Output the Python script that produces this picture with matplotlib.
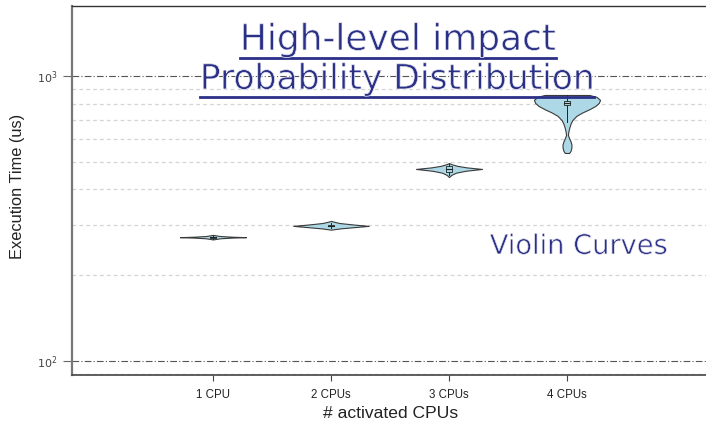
import matplotlib
matplotlib.use("Agg")
import matplotlib.pyplot as plt
import matplotlib.patheffects as pe
from matplotlib.ticker import LogLocator, NullFormatter, FixedLocator, FixedFormatter
from matplotlib.lines import Line2D
from matplotlib.patches import Rectangle

# ---------------- data ----------------
categories = ["1 CPU", "2 CPUs", "3 CPUs", "4 CPUs"]

# violin outlines: execution time (us) and half-width (category units)
v1_vals = [267, 269.5, 271, 272, 273, 274.5, 277]
v1_half = [0.0, 0.06, 0.16, 0.28, 0.16, 0.06, 0.0]

v2_vals = [289, 292, 295, 298, 301, 305, 310]
v2_half = [0.0, 0.08, 0.2, 0.32, 0.2, 0.07, 0.0]

v3_vals = [442, 450, 458, 465, 472, 478, 484, 490, 495]
v3_half = [0.0, 0.02, 0.06, 0.14, 0.28, 0.15, 0.07, 0.025, 0.0]

v4_vals = [537, 546, 560, 575, 590, 606, 621, 640, 660, 680, 700, 725,
           745, 765, 785, 805, 825, 845, 858]
v4_half = [0.018, 0.03, 0.037, 0.038, 0.03, 0.017, 0.008, 0.012, 0.02, 0.03,
           0.045, 0.08, 0.13, 0.19, 0.24, 0.27, 0.28, 0.25, 0.19]

# inner box summaries
box_lo = [269, 293, 450, 690]
box_q1 = [271, 297, 462, 790]
box_med = [272, 298, 472, 805]
box_q3 = [273, 300, 485, 815]
box_hi = [275, 304, 492, 858]

y_major = [100, 1000]
y_major_labels = ["$10^2$", "$10^3$"]

violins = [(v1_vals, v1_half), (v2_vals, v2_half), (v3_vals, v3_half), (v4_vals, v4_half)]

# ---------------- figure ----------------
W, H = 706, 422
fig = plt.figure(figsize=(W / 100, H / 100), dpi=100)
ax = fig.add_axes([72 / W, 1 - 375 / H, (708 - 72) / W, (375 - 6) / H])

navy = "#2B3087"
fill_c = "#ADD8E6"

ax.set_yscale("log")
ax.set_ylim(89.3, 1761)
ax.set_xlim(1 - 1.195, 4 + 1.195)

for i, (vals, half) in enumerate(violins):
    x0 = i + 1
    ax.fill_betweenx(vals, [x0 - h for h in half], [x0 + h for h in half],
                     facecolor=fill_c, edgecolor="#3a3a3a", linewidth=0.8, zorder=3)
    ax.plot([x0, x0], [box_lo[i], box_hi[i]], color="#222222", lw=0.7, zorder=4)
    bw = 0.022
    ax.add_patch(Rectangle((x0 - bw, box_q1[i]), 2 * bw, box_q3[i] - box_q1[i],
                           facecolor=fill_c, edgecolor="#222222", lw=0.6, zorder=5))
    ax.plot([x0 - bw, x0 + bw], [box_med[i], box_med[i]], color="#222222", lw=0.8, zorder=6)

# axes styling
ax.yaxis.set_major_locator(FixedLocator(y_major))
ax.yaxis.set_major_formatter(FixedFormatter(y_major_labels))
ax.yaxis.set_minor_locator(LogLocator(base=10, subs=range(2, 10)))
ax.yaxis.set_minor_formatter(NullFormatter())
ax.set_xticks(range(1, len(categories) + 1))
ax.set_xticklabels(categories, fontfamily="Liberation Sans", fontsize=8.3, color="#222222")
ax.tick_params(axis="y", which="major", length=6.5, width=0.8, color="#666666",
               labelsize=8, labelcolor="#444444", pad=4)
ax.tick_params(axis="y", which="minor", length=0)
ax.tick_params(axis="x", length=4, width=0.8, color="#444444", pad=6)

ax.grid(True, which="major", axis="y", linestyle=(0, (6, 2, 1, 2)), color="#555555", lw=0.8)
ax.grid(True, which="minor", axis="y", linestyle=(0, (3, 2.5)), color="#d4d4d4", lw=0.9)
ax.grid(False, axis="x")
ax.set_axisbelow(True)

ax.spines["right"].set_visible(False)
ax.spines["left"].set_color("#777777")
ax.spines["left"].set_linewidth(1.6)
ax.spines["top"].set_color("#333333")
ax.spines["top"].set_linewidth(1.0)
ax.spines["bottom"].set_color("#444444")
ax.spines["bottom"].set_linewidth(1.2)

fig.text(18 / W, 1 - 186 / H, "Execution Time (us)", rotation=90, ha="center", va="center",
         fontfamily="Liberation Sans", fontsize=11.8, color="#222222")
fig.text(391 / W, 1 - 414 / H, "# activated CPUs", ha="center", va="center",
         fontfamily="Liberation Sans", fontsize=12.6, color="#222222")

# overlay annotations: wide sans face, strokes slightly thinned
renderer = fig.canvas.get_renderer()
thin = [pe.Normal(), pe.Stroke(linewidth=0.5, foreground="white")]


def fitted_text(cx, cy, s, target_w, underline_y=None):
    t = fig.text(cx / W, 1 - cy / H, s, ha="center", va="center",
                 fontfamily="DejaVu Sans", fontsize=20, color=navy)
    bb = t.get_window_extent(renderer)
    t.set_fontsize(20 * target_w / bb.width)
    t.set_path_effects(thin)
    bb = t.get_window_extent(renderer)
    if underline_y is not None:
        fig.add_artist(Line2D([bb.x0 / W, bb.x1 / W], [1 - underline_y / H] * 2,
                              color=navy, lw=2.0, transform=fig.transFigure))
    return t


fitted_text(398, 40, "High-level impact", 316, underline_y=58)
fitted_text(397, 79, "Probability Distribution", 395, underline_y=97)
fitted_text(579, 247, "Violin Curves", 178)

fig.savefig("out.png", dpi=100)
